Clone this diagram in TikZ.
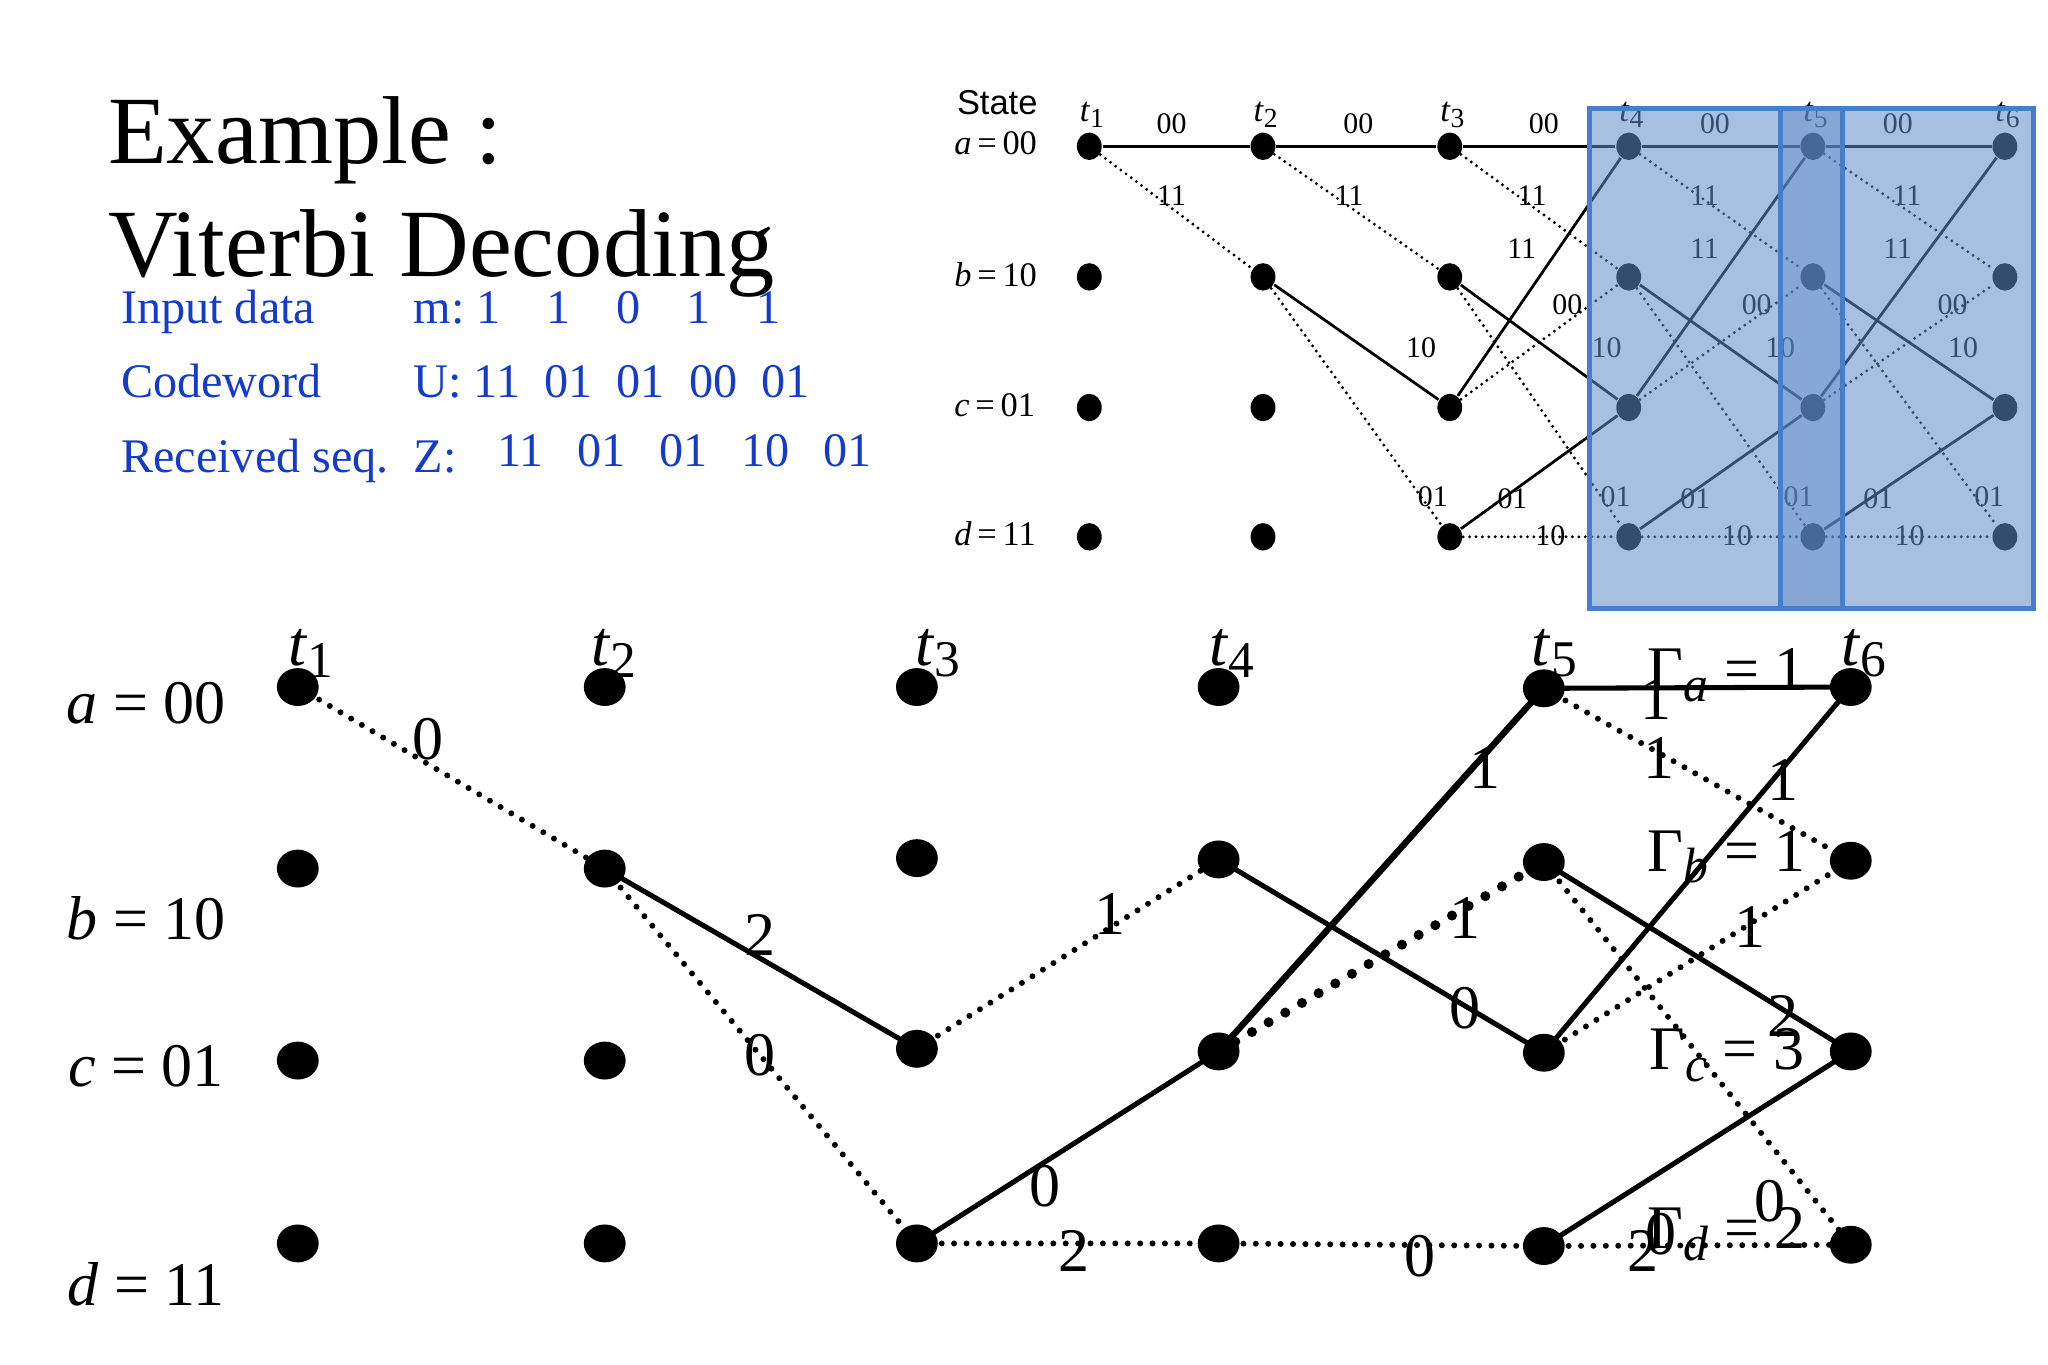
\documentclass[tikz,border=0pt]{standalone}
\usepackage{fontspec}
\setmainfont{Liberation Serif}
\newfontfamily\insetsans{Liberation Sans}
\usetikzlibrary{shapes.geometric}
\definecolor{txtblue}{RGB}{20,60,200}
\definecolor{ovfill}{RGB}{95,140,200}
\definecolor{ovline}{RGB}{70,125,205}
\newcommand{\sbs}[1]{\raisebox{-0.4ex}{\fontsize{0.8em}{1em}\selectfont #1}}
\tikzset{
 bdot/.style={ellipse,fill=black,minimum width=0.32cm,minimum height=0.29cm,inner sep=0pt},
 sdot/.style={ellipse,fill=black,minimum width=0.19cm,minimum height=0.21cm,inner sep=0pt},
 sol/.style={line width=1.1pt},
 dotl/.style={line width=1.3pt,dash pattern=on 0pt off 2.7pt,line cap=round},
 bigdot/.style={line width=2.2pt,dash pattern=on 0pt off 4.2pt,line cap=round},
 ssol/.style={line width=0.6pt},
 sdotl/.style={line width=0.7pt,dash pattern=on 0pt off 1.4pt,line cap=round},
 lbl/.style={font=\fontsize{13.5}{15}\selectfont,inner sep=0pt},
 slbl/.style={font=\fontsize{6.5}{8}\selectfont,inner sep=0pt},
 bl/.style={text=txtblue,font=\fontsize{10.5}{12}\selectfont,anchor=base west,inner sep=0pt},
}
\begin{document}
\begin{tikzpicture}[x=0.01cm,y=-0.01cm]
\useasboundingbox (0,0) rectangle (1568,1045);
% title
\node[anchor=base west,inner sep=0pt,font=\fontsize{21}{24}\selectfont] (ex) at (82,125) {Example :};
\node[anchor=base west,inner sep=0pt,font=\fontsize{21}{24}\selectfont] (vd) at (82,212) {Viterbi Decoding};
\node[bl] (in) at (92,248) {Input data};
\node[bl] (inv) at (316,248) {m:\ 1\hspace{0.95em}1\hspace{0.95em}0\hspace{0.95em}1\hspace{0.95em}1};
\node[bl] (cw) at (92,304) {Codeword};
\node[bl] (cwv) at (316,304) {U:\ 11\ \ 01\ \ 01\ \ 00\ \ 01};
\node[bl] (rs) at (92,362) {Received seq.};
\node[bl] (rsz) at (316,362) {Z:};
\node[bl] (rsv) at (380,357) {11\hspace{0.7em}01\hspace{0.7em}01\hspace{0.7em}10\hspace{0.7em}01};
% ---------- inset trellis ----------
\node[anchor=base west,inner sep=0pt,font=\insetsans\fontsize{7.5}{9}\selectfont] (st) at (732,88) {State};
\foreach \r/\n/\y in {a/00/112,b/10/212,c/01/312,d/11/411}{
  \node[anchor=west,inner sep=0pt,font=\fontsize{7.5}{9}\selectfont] at (730,\y-2) {\textit{\r}\,=\,\n};
}
\foreach \i/\x in {1/834,2/967,3/1110,4/1247,5/1388,6/1535}{
  \node[sdot] (A\i) at (\x,112) {};
  \node[sdot] (B\i) at (\x,212) {};
  \node[sdot] (C\i) at (\x,312) {};
  \node[sdot] (D\i) at (\x,411) {};
  \node[inner sep=0pt,font=\fontsize{7.5}{9}\selectfont] at (\x+2,88) {\textit{t}\sbs{\i}};
}
\foreach \i/\j in {1/2,2/3,3/4,4/5,5/6}{
  \draw[ssol] (A\i) -- (A\j);
  \draw[sdotl] (A\i) -- (B\j);
}
\foreach \i/\j in {2/3,3/4,4/5,5/6}{
  \draw[ssol] (B\i) -- (C\j);
  \draw[sdotl] (B\i) -- (D\j);
}
\foreach \i/\j in {3/4,4/5,5/6}{
  \draw[ssol] (C\i) -- (A\j);
  \draw[sdotl] (C\i) -- (B\j);
  \draw[ssol] (D\i) -- (C\j);
  \draw[sdotl] (D\i) -- (D\j);
}
\foreach \x in {897,1040,1182,1313,1453} \node[slbl] at (\x,95) {00};
\foreach \x in {897,1033,1173,1305,1460} \node[slbl] at (\x,150) {11};
\foreach \x in {1165,1305,1453} \node[slbl] at (\x,190) {11};
\foreach \x in {1200,1345,1495} \node[slbl] at (\x,233) {00};
\foreach \x in {1088,1230,1363,1503} \node[slbl] at (\x,266) {10};
\foreach \x in {1097,1237,1377,1523} \node[slbl] at (\x,380) {01};
\foreach \x in {1158,1298,1438} \node[slbl] at (\x,382) {01};
\foreach \x in {1187,1330,1462} \node[slbl] at (\x,410) {10};
% overlay
\fill[ovfill,opacity=0.55] (1217,83) rectangle (1557,466);
\fill[ovfill,opacity=0.45] (1363,83) rectangle (1411,466);
\draw[ovline,line width=1.1pt] (1217,83) rectangle (1557,466);
\draw[ovline,line width=1.1pt] (1363,83) rectangle (1411,466);
% ---------- main trellis ----------
\foreach \r/\n/\y in {a/00/538,b/10/703,c/01/816,d/11/983}{
  \node[anchor=center,inner sep=0pt,font=\fontsize{13.5}{15}\selectfont] at (112,\y) {\textit{\r} = \n};
}
\node[bdot] (a1) at (228,526) {}; \node[bdot] (b1) at (228,665) {}; \node[bdot] (c1) at (228,812) {}; \node[bdot] (d1) at (228,952) {};
\node[bdot] (a2) at (463,526) {}; \node[bdot] (b2) at (463,665) {}; \node[bdot] (c2) at (463,812) {}; \node[bdot] (d2) at (463,952) {};
\node[bdot] (a3) at (702,526) {}; \node[bdot] (b3) at (702,657) {}; \node[bdot] (c3) at (702,803) {}; \node[bdot] (d3) at (702,952) {};
\node[bdot] (a4) at (933,526) {}; \node[bdot] (b4) at (933,658) {}; \node[bdot] (c4) at (933,805) {}; \node[bdot] (d4) at (933,952) {};
\node[bdot] (a5) at (1182,527) {}; \node[bdot] (b5) at (1182,660) {}; \node[bdot] (c5) at (1182,806) {}; \node[bdot] (d5) at (1182,954) {};
\node[bdot] (a6) at (1417,526) {}; \node[bdot] (b6) at (1417,659) {}; \node[bdot] (c6) at (1417,805) {}; \node[bdot] (d6) at (1417,953) {};
\foreach \i/\x in {1/238,2/470,3/718,4/943,5/1190,6/1427}
  \node[inner sep=0pt,font=\fontsize{14}{15}\selectfont] at (\x,500) {\textit{t}\sbs{\i}};
\draw[dotl] (a1.center) -- (b2.center);
\draw[sol] (b2.center) -- (c3.center);
\draw[dotl] (b2.center) -- (d3.center);
\draw[dotl] (c3.center) -- (b4.center);
\draw[sol] (d3.center) -- (c4.center);
\draw[dotl] (d3.center) -- (d4.center);
\draw[sol] (b4.center) -- (c5.center);
\draw[sol,line width=1.4pt] (c4.center) -- (a5.center);
\draw[bigdot] (c4.center) -- (b5.center);
\draw[dotl] (d4.center) -- (d5.center);
\draw[sol] (a5.center) -- (a6.center);
\draw[dotl] (a5.center) -- (b6.center);
\draw[sol] (c5.center) -- (a6.center);
\draw[dotl] (c5.center) -- (b6.center);
\draw[sol] (b5.center) -- (c6.center);
\draw[dotl] (b5.center) -- (d6.center);
\draw[sol] (d5.center) -- (c6.center);
\draw[dotl] (d5.center) -- (d6.center);
\foreach \x/\y/\t in {328/566/0,582/716/2,582/808/0,850/700/1,800/908/0,822/958/2,1122/772/0,1137/588/1,1122/703/1,1087/962/0,1268/535/1,1270/580/1,1365/597/1,1340/710/1,1365/778/2,1355/920/0,1258/958/2,1272/945/0}
  \node[lbl] at (\x,\y) {\t};
\foreach \s/\y/\v in {a/517/1,b/656/1,c/808/3,d/945/2}
  \node[lbl] at (1322,\y) {Γ\sbs{\textit{\s}} = \v};
\end{tikzpicture}
\end{document}
